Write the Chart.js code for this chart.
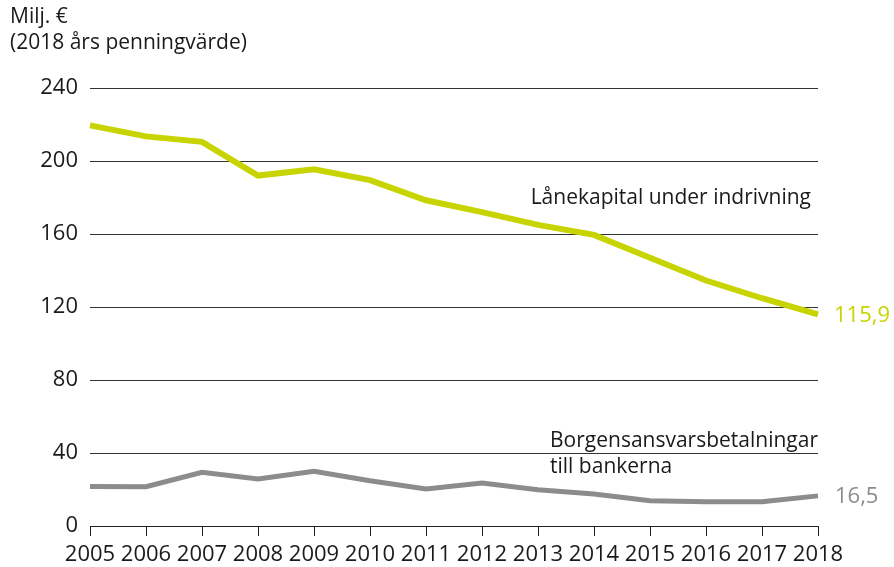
<!DOCTYPE html>
<html>
<head>
<meta charset="utf-8">
<script src="https://cdn.jsdelivr.net/npm/chart.js@4"></script>
<style>
  html, body { margin: 0; padding: 0; background: #fff; }
  #wrap { width: 894px; height: 567px; position: relative; }
</style>
</head>
<body>
<div id="wrap"><canvas id="lineChart"></canvas></div>
<script>
var years = ["2005", "2006", "2007", "2008", "2009", "2010", "2011", "2012", "2013", "2014", "2015", "2016", "2017", "2018"];
var lanekapital = [219.5, 213.5, 210.5, 192, 195.5, 189.5, 178.5, 172, 165, 159.5, 147, 134.5, 124.8, 115.9];
var borgen = [21.7, 21.5, 29.4, 25.8, 30, 24.8, 20.3, 23.6, 19.9, 17.5, 13.9, 13.3, 13.3, 16.5];
var yTicks = [0, 40, 80, 120, 160, 200, 240];

var FONT = "'Open Sans', sans-serif";
var GREEN = "#c8d400";
var GREY = "#8c8c8c";

var textPlugin = {
  id: "texts",
  afterDatasetsDraw: function(chart) {
    var ctx = chart.ctx;
    var x = chart.scales.x, y = chart.scales.y;
    ctx.save();
    ctx.textBaseline = "middle";
    ctx.font = "21px " + FONT;
    ctx.fillStyle = "#1a1a1a";
    ctx.textAlign = "left";
    ctx.fillText("Milj. €", 10, 17);
    ctx.fillText("(2018 års penningvärde)", 10, 43);

    ctx.textAlign = "right";
    ctx.fillText("Lånekapital under indrivning", x.getPixelForValue(13) - 7, y.getPixelForValue(179.5));
    var right = x.getPixelForValue(13);
    var w = ctx.measureText("Borgensansvarsbetalningar").width;
    ctx.fillText("Borgensansvarsbetalningar", right, y.getPixelForValue(46.5));
    ctx.textAlign = "left";
    ctx.fillText("till bankerna", right - w, y.getPixelForValue(32.5));

    ctx.font = "22px " + FONT;
    ctx.fillStyle = GREEN;
    ctx.fillText("115,9", right + 16, y.getPixelForValue(lanekapital[13]) + 1);
    ctx.fillStyle = GREY;
    ctx.fillText("16,5", right + 17, y.getPixelForValue(borgen[13]) + 1);
    ctx.restore();
  }
};

var ctx = document.getElementById("lineChart").getContext("2d");
var myChart = new Chart(ctx, {
  type: "line",
  data: {
    labels: years,
    datasets: [
      {
        label: "Lånekapital under indrivning",
        data: lanekapital,
        borderColor: GREEN,
        borderWidth: 6,
        pointRadius: 0,
        tension: 0,
        fill: false
      },
      {
        label: "Borgensansvarsbetalningar till bankerna",
        data: borgen,
        borderColor: GREY,
        borderWidth: 5,
        pointRadius: 0,
        tension: 0,
        fill: false
      }
    ]
  },
  options: {
    responsive: true,
    maintainAspectRatio: false,
    animation: false,
    layout: { padding: { top: 88, right: 76, left: 0, bottom: 0 } },
    plugins: {
      legend: { display: false },
      tooltip: { enabled: false }
    },
    scales: {
      x: {
        type: "category",
        offset: false,
        grid: {
          drawOnChartArea: false,
          drawTicks: true,
          tickLength: 10,
          color: "#222",
          lineWidth: 1
        },
        border: { display: true, color: "#222", width: 1 },
        ticks: {
          color: "#1a1a1a",
          font: { family: FONT, size: 22 },
          padding: 6,
          maxRotation: 0,
          autoSkip: false
        },
        afterFit: function(scale) { scale.height = 41; }
      },
      y: {
        min: 0,
        max: 240,
        afterBuildTicks: function(scale) {
          scale.ticks = yTicks.map(function(v) { return { value: v }; });
        },
        grid: {
          drawTicks: false,
          color: "#333",
          lineWidth: 1
        },
        border: { display: false },
        ticks: {
          color: "#1a1a1a",
          font: { family: FONT, size: 22 },
          padding: 12
        },
        afterFit: function(scale) { scale.width = 90; }
      }
    }
  },
  plugins: [textPlugin]
});
</script>
</body>
</html>
